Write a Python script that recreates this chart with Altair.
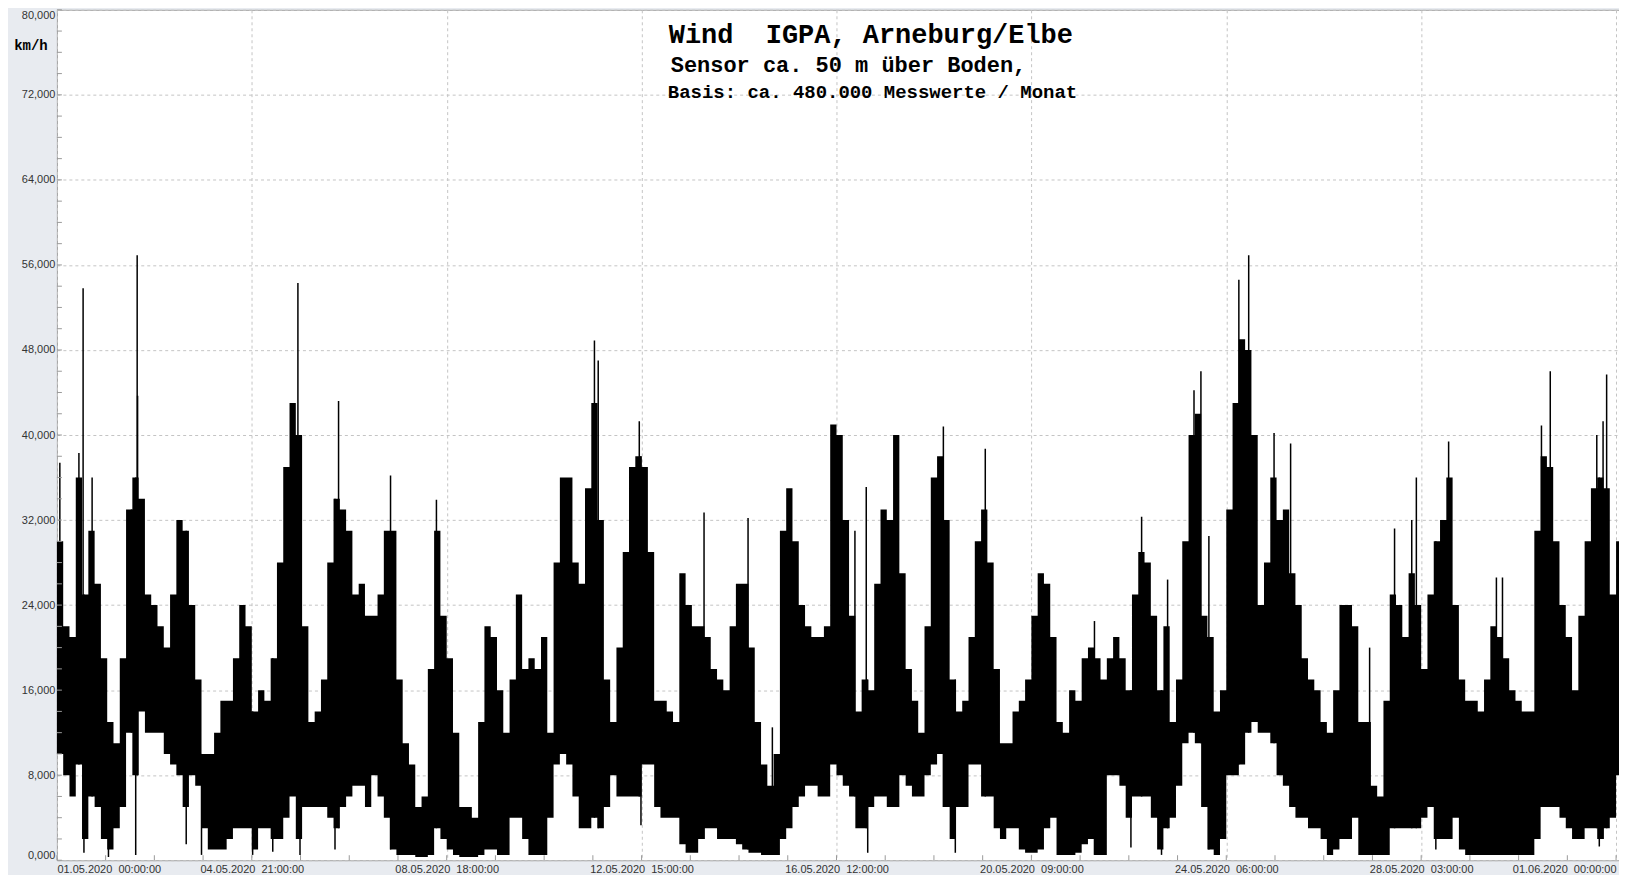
import json
import altair as alt
import pandas as pd

NB = "\u00a0"  # keeps the double spaces visible in SVG text

# ---------------- text ----------------
x_labels = ["01.05.2020  00:00:00", "04.05.2020  21:00:00", "08.05.2020  18:00:00",
            "12.05.2020  15:00:00", "16.05.2020  12:00:00", "20.05.2020  09:00:00",
            "24.05.2020  06:00:00", "28.05.2020  03:00:00", "01.06.2020  00:00:00"]
title_lines = ["Wind  IGPA, Arneburg/Elbe",
               "Sensor ca. 50 m über Boden,",
               "Basis: ca. 480.000 Messwerte / Monat"]
unit_label = "km/h"

# ---------------- data (km/h), 3-hour bins from 01.05.2020 00:00 ----------------
bin_hours = list(range(0, 745, 3))

upper_kmh = (
    [30, 22, 21, 36, 25, 31, 26, 19, 13, 11, 19, 33, 36, 34, 25, 24, 22, 20, 25, 32,
     31, 24, 17, 10, 10, 12, 15, 15, 19, 24, 22, 14, 16, 15, 19, 28, 37, 43, 40, 22, 13, 14]
    + [17, 28, 34, 33, 31, 25, 26, 23, 23, 25, 31, 31, 17, 11, 9, 5, 6, 18, 31, 23,
       19, 12, 5, 5, 4, 13, 22, 21, 16, 12, 17, 25, 18, 19, 18, 21, 12, 28, 36, 36, 28]
    + [26, 35, 43, 32, 17, 13, 20, 29, 37, 38, 37, 29, 15, 15, 14, 13, 27, 24, 22, 22,
       21, 18, 17, 16, 22, 26, 26, 20, 13, 9, 7, 10, 31, 35, 30, 24, 22, 21, 21, 22]
    + [41, 40, 32, 23, 14, 17, 16, 26, 33, 32, 40, 27, 18, 15, 12, 22, 36, 38, 32, 17,
       14, 15, 21, 30, 33, 28, 18, 11, 11, 14, 15, 17, 23, 27, 26, 21, 13, 12, 16, 15, 19, 20]
    + [19, 17, 19, 21, 19, 16, 25, 29, 28, 23, 16, 22, 13, 17, 30, 40, 42, 23, 21, 14,
       16, 33, 43, 49, 48, 40, 24, 28, 36, 32, 33, 27, 24, 19, 17, 16, 13, 12, 16, 24, 24]
    + [22, 13, 13, 7, 6, 15, 25, 24, 21, 27, 24, 18, 25, 30, 32, 36, 24, 17, 15, 15,
       14, 17, 22, 21, 19, 16, 15, 14, 14, 31, 38, 37, 30, 24, 21, 16, 23, 30, 35, 36, 35, 25, 30]
)

lower_kmh = (
    [10, 8, 6, 9, 2, 6, 5, 2, 1, 3, 5, 12, 8, 14, 12, 12, 12, 10, 9, 8,
     5, 8, 7, 3, 1, 1, 1, 2, 3, 3, 3, 1, 3, 3, 2, 2, 4, 6, 2, 5, 5, 5]
    + [5, 4, 3, 5, 6, 7, 7, 5, 8, 6, 4, 1, 0.5, 0.5, 0.5, 0.3, 0.3, 0.5, 3, 2,
       1, 0.5, 0.3, 0.3, 0.3, 0.5, 1, 1, 0.5, 0.5, 4, 4, 2, 0.5, 0.5, 0.5, 4, 9, 10, 9, 6]
    + [3, 3, 4, 3, 5, 8, 6, 6, 6, 6, 9, 9, 5, 4, 4, 4, 1.5, 0.7, 0.7, 2,
       3, 3, 2, 2, 2, 1.5, 1, 0.7, 0.7, 0.5, 0.5, 0.5, 2, 3, 5, 6, 7, 7, 6, 6]
    + [9, 8, 7, 6, 3, 3, 5, 6, 6, 5, 5, 8, 7, 6, 6, 8, 9, 10, 5, 2,
       5, 5, 9, 9, 6, 6, 3, 2, 3, 3, 1, 0.7, 0.7, 1, 3, 4, 0.5, 0.5, 0.5, 0.7, 1.5, 2]
    + [0.5, 0.5, 8, 8, 7, 4, 6, 6, 6, 4, 1, 3, 4, 7, 11, 12, 11, 5, 1, 0.5,
       2, 8, 8, 9, 12, 13, 12, 12, 11, 8, 7, 5, 4, 4, 3, 3, 2, 0.5, 1, 2, 2]
    + [4, 0.5, 0.5, 0.5, 0.5, 0.5, 3, 3, 3, 3, 3, 4, 5, 2, 2, 2, 4, 1, 0.5, 0.5,
       0.5, 0.5, 0.5, 0.5, 0.5, 0.5, 0.5, 0.5, 0.5, 2, 5, 5, 5, 4, 3, 2, 2, 3, 3, 2, 3, 4, 8]
)

# isolated gusts (hour since start, km/h)
spike_hours = [1.4, 10.5, 12.5, 16.8, 35.6, 38.3, 38.5, 115, 134.4, 159.2, 181.1, 256.5,
               258.3, 277.9, 308.8, 329.8, 341.4, 380.8, 386.2, 423, 443, 495.1, 517.6,
               530, 542.6, 545.9, 549.7, 564, 568.7, 580.8, 588.7, 626.4, 638.3, 646.5,
               648.7, 664.1, 686.9, 689.8, 708.4, 712.6, 734.8, 737.8, 739.5]
spike_kmh = [37.4, 38.3, 53.8, 36, 33, 56.9, 43.7, 54.3, 43.2, 36.2, 33.9, 48.9,
             47, 41.3, 32.7, 32.2, 12.5, 31, 35.1, 40.8, 38.7, 22.5, 32.3,
             26.4, 44.2, 46, 30.5, 54.6, 56.9, 40.2, 39.2, 20, 31.2, 32,
             36, 39.4, 26.6, 26.6, 40.9, 46, 40, 41.3, 45.7]

# isolated lulls
dip_hours = [12.9, 24.6, 37.6, 61.7, 69, 93.4, 103, 116, 132.7, 278.7, 386.9, 428.7,
             512.5, 527.1, 658, 736]
dip_kmh = [0.7, 0.3, 0.5, 1.5, 0.5, 0.5, 0.8, 0.5, 1.0, 3.3, 0.7, 0.7,
           1.2, 0.5, 1.0, 1.3]

# ---------------- layout ----------------
END_H = 745.4
W, H = 1565, 852
GRID = "#c4c4c4"
AXIS_GREY = "#9a9a9a"


def bin_of(h):
    return min(int(h // 3), len(bin_hours) - 1)


band = pd.DataFrame({
    "h": bin_hours + [END_H],
    "hi": upper_kmh + [upper_kmh[-1]],
    "lo": lower_kmh + [lower_kmh[-1]],
})
spikes = pd.DataFrame({"h": spike_hours, "v": spike_kmh,
                       "base": [lower_kmh[bin_of(h)] for h in spike_hours]})
dips = pd.DataFrame({"h": dip_hours, "v": dip_kmh,
                     "top": [upper_kmh[bin_of(h)] for h in dip_hours]})

xs = alt.Scale(domain=[0, END_H], nice=False, zero=False)
ys = alt.Scale(domain=[0, 80], nice=False, zero=True)

x_label_list = [s.replace("  ", " " + NB) for s in x_labels]
x_axis = alt.Axis(
    values=[93 * i for i in range(len(x_labels))],
    labelExpr=json.dumps(x_label_list) + "[round(datum.value / 93)]",
    labelFlush=6, labelOverlap=False, grid=True, gridColor=GRID, gridDash=[3, 3],
    ticks=False, domain=False, labelPadding=3, labelFont="Liberation Sans",
    labelFontSize=11, labelColor="#333333", title=None,
)
y_axis = alt.Axis(
    values=[8 * i for i in range(11)],
    labelExpr="replace(format(datum.value, '.3f'), '.', ',')",
    labelFlush=True, labelOverlap=False, grid=True, gridColor=GRID, gridDash=[3, 3],
    ticks=False, domain=False, labelPadding=2, minExtent=45, maxExtent=45,
    labelFont="Liberation Sans", labelFontSize=11, labelColor="#333333", title=None,
)

area = alt.Chart(band).mark_area(interpolate="step-after", color="black", opacity=1).encode(
    x=alt.X("h:Q", scale=xs, axis=x_axis),
    y=alt.Y("hi:Q", scale=ys, axis=y_axis),
    y2="lo:Q",
)
spike_rules = alt.Chart(spikes).mark_rule(color="black", strokeWidth=1.5).encode(
    x=alt.X("h:Q", scale=xs, axis=x_axis),
    y=alt.Y("v:Q", scale=ys, axis=y_axis),
    y2="base:Q",
)
dip_rules = alt.Chart(dips).mark_rule(color="black", strokeWidth=1.5).encode(
    x=alt.X("h:Q", scale=xs, axis=x_axis),
    y=alt.Y("v:Q", scale=ys, axis=y_axis),
    y2="top:Q",
)

x_ticks = pd.DataFrame({"h": [23.25 * k for k in range(33)]})
y_ticks = pd.DataFrame({"v": list(range(0, 81, 2))})
x_tick_rules = alt.Chart(x_ticks).mark_rule(color=AXIS_GREY).encode(
    x=alt.X("h:Q", scale=xs, axis=x_axis), y=alt.value(H - 5), y2=alt.value(H))
y_tick_rules = alt.Chart(y_ticks).mark_rule(color=AXIS_GREY).encode(
    y=alt.Y("v:Q", scale=ys, axis=y_axis), x=alt.value(0), x2=alt.value(5))

title_pos = [(613, 25, 27), (615, 55, 22), (612, 82, 19)]
texts = []
for line, (tx, ty, fs) in zip(title_lines, title_pos):
    texts.append(
        alt.Chart(pd.DataFrame({"t": [line.replace("  ", " " + NB)]})).mark_text(
            align="left", baseline="middle", font="Liberation Mono", fontWeight="bold",
            fontSize=fs, color="black",
        ).encode(text="t:N", x=alt.value(tx), y=alt.value(ty))
    )
unit = alt.Chart(pd.DataFrame({"t": [unit_label]})).mark_text(
    align="center", baseline="middle", font="Liberation Mono", fontWeight="bold",
    fontSize=14, color="black",
).encode(text="t:N", x=alt.value(-26), y=alt.value(36))

chart = alt.layer(
    area, spike_rules, dip_rules, x_tick_rules, y_tick_rules, *texts, unit
).properties(
    width=W, height=H,
    padding={"left": 4, "top": 0, "right": 0, "bottom": 0},
    background="#e8ebf0",
).configure_view(fill="white", stroke="#a0a0a0")

chart.save("out.html", embed_options={"renderer": "svg", "actions": False})
